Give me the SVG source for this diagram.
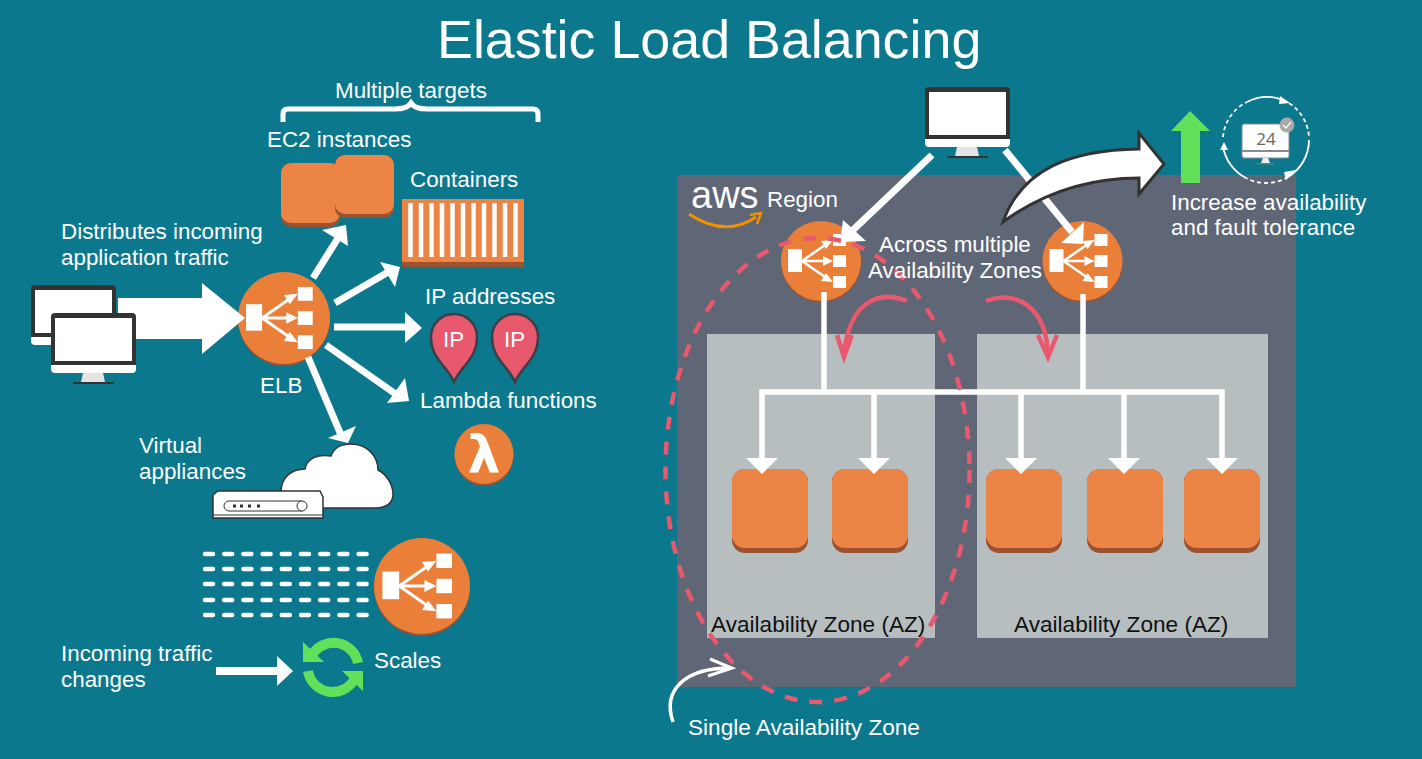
<svg xmlns="http://www.w3.org/2000/svg" width="1422" height="759" viewBox="0 0 1422 759">
<style>
text{font-family:"Liberation Sans",Arial,sans-serif;font-size:22.4px;fill:#fff}
.az{fill:#111}
.w{stroke:#fff;fill:none}
.wf{fill:#fff}
.box{fill:#ec8446}
.sh{fill:#9c5230}
.red{stroke:#e8596e;fill:none;stroke-width:4.5}
.grn{stroke:#62e05a;fill:none;stroke-width:10}
</style>
<defs>
<g id="elb">
<circle cx="0" cy="1.500" r="40" fill="#9c5230"/>
<circle cx="0" cy="0" r="40" fill="#e97f38"/>
<rect x="-33" y="-12" width="14" height="23" fill="#fff"/>
<rect x="12" y="-27" width="13" height="12" fill="#fff"/>
<rect x="12" y="-6" width="13" height="12" fill="#fff"/>
<rect x="12" y="15" width="13" height="12" fill="#fff"/>
<path d="M-19 0L4 -16M-19 0H4M-19 0L4 16" stroke="#fff" stroke-width="2.600" fill="none"/>
<path d="M12 -21L0 -20L5 -12ZM12 0L2 -5V5ZM12 21L0 20L5 12Z" fill="#fff"/>
</g>
<g id="monitor">
<rect x="0" y="0" width="85" height="54" rx="4" fill="#333"/>
<rect x="4" y="5" width="77" height="43" fill="#fff"/>
<path d="M0 52H85V56Q85 60 81 60H4Q0 60 0 56Z" fill="#fff"/>
<path d="M32 60H52L54 69H30Z" fill="#e4e4e4"/>
<rect x="22" y="69" width="41" height="2" rx="1" fill="#333"/>
</g>
<g id="ec2">
<rect x="0" y="0" width="76" height="84" rx="13" fill="#9c5230"/>
<rect x="0" y="0" width="76" height="79" rx="13" fill="#ec8446"/>
</g>
<g id="pin">
<path d="M0 45C-6 30 -23 22 -23 0A23 23 0 0 1 23 0C23 22 6 30 0 45Z" fill="#e8596e" stroke="#3a3f48" stroke-width="2.500"/>
</g>
</defs>
<rect width="1422" height="759" fill="#0b788e"/>
<text id="title" x="437" y="58" style="font-size:53.800px">Elastic Load Balancing</text>

<g id="region"><rect x="677" y="175" width="619" height="512" fill="#5f6676"/></g>
<g id="az1"><rect x="707" y="334" width="228" height="304" fill="#b6bec0"/><text class="az" x="711" y="632" style="font-size:22.600px">Availability Zone (AZ)</text></g>
<g id="az2"><rect x="977" y="334" width="291" height="304" fill="#b6bec0"/><text class="az" x="1014" y="632" style="font-size:22.600px">Availability Zone (AZ)</text></g>
<g id="aws-logo">
<text x="691" y="208" style="font-size:38px">aws</text>
<path d="M689 214Q725 238 756 217" fill="none" stroke="#f29100" stroke-width="3"/>
<path d="M750 215L761 213L757 224" fill="none" stroke="#f29100" stroke-width="2.500"/>
<text x="767" y="207">Region</text>
</g>

<g id="clients-left">
<use href="#monitor" x="31" y="285"/>
</g>
<g id="elb-left"><use href="#elb" transform="translate(284 318) scale(1.15)"/><text x="260" y="393">ELB</text></g>
<g id="ec2-instances">
<text x="267" y="147">EC2 instances</text>
<rect x="281" y="163" width="59" height="64" rx="10" fill="#9c5230"/><rect x="281" y="163" width="59" height="60" rx="10" class="box"/>
<rect x="335" y="155" width="59" height="63" rx="10" fill="#9c5230"/><rect x="335" y="155" width="59" height="59" rx="10" class="box"/>
</g>
<g id="containers">
<text x="410" y="186.500">Containers</text>
<rect x="402" y="199" width="122" height="68" fill="#ec8446"/>
<rect x="402" y="262" width="122" height="5" fill="#9c5230"/>
<path d="M410.500 203V257M421 203V257M431.500 203V257M442 203V257M452.500 203V257M463 203V257M473.500 203V257M484 203V257M494.500 203V257M505 203V257M515.500 203V257" stroke="#fff" stroke-width="4.500"/>
</g>
<g id="ip-addresses">
<text x="425" y="304">IP addresses</text>
<use href="#pin" x="454" y="337"/><use href="#pin" x="515" y="337"/>
<text x="443" y="347">IP</text><text x="504" y="347">IP</text>
</g>
<g id="lambda">
<text x="420" y="408">Lambda functions</text>
<ellipse cx="484" cy="456" rx="29.500" ry="30" fill="#9c5230"/><ellipse cx="484" cy="454" rx="29.500" ry="30" fill="#e97f38"/>
<text x="484" y="472" text-anchor="middle" style="font-size:52px;font-weight:bold;font-family:'DejaVu Sans',sans-serif">λ</text>
</g>
<g id="virtual-appliances">
<text x="139" y="453">Virtual</text><text x="139" y="479">appliances</text>
<path d="M281 492C281 478 291 469 305 469C307 458 318 454 331 456C334 447 343 444 351 444C366 444 378 455 378 470C386 474 393 484 393 494C393 503 386 508 376 508L300 508Z" fill="#fff" stroke="#333" stroke-width="1.500"/>
<path d="M213 495L218 491H320L323 497V518H213Z" fill="#fff" stroke="#333" stroke-width="1.500"/>
<path d="M213 515H323" stroke="#333" stroke-width="1"/>
<rect x="224" y="501" width="82" height="10" rx="5" fill="none" stroke="#333" stroke-width="1"/>
<path d="M233 506h3M240 506h3M248 506h3M257 506h3" stroke="#333" stroke-width="3"/>
<circle cx="302" cy="506" r="5" fill="#fff" stroke="#333" stroke-width="1"/>
</g>
<g id="traffic-lines">
<path d="M205 554H370M205 569H370M205 584H370M205 600H370M205 615H370" stroke="#fff" stroke-width="4.500" stroke-linecap="round" stroke-dasharray="8 11.200" fill="none"/>
</g>
<g id="elb-scale"><use href="#elb" transform="translate(422 586) scale(1.2)"/></g>
<g id="scales">
<path class="grn" d="M358 663A25 25 0 0 0 312 655"/>
<path d="M303 642V662H324Z" fill="#62e05a"/>
<path class="grn" d="M308 671A25 25 0 0 0 354 680"/>
<path d="M363 671V691L342 671Z" fill="#62e05a"/>
<text x="374" y="668">Scales</text>
</g>
<text x="61" y="239">Distributes incoming</text><text x="61" y="265">application traffic</text>
<text x="61" y="661">Incoming traffic</text><text x="61" y="687">changes</text>
<text x="335" y="98">Multiple targets</text>
<path d="M283 122V114Q283 109 288 109H395Q407 109 411 103Q415 109 427 109H533Q538 109 538 114V122" fill="none" stroke="#fff" stroke-width="5"/>

<g id="elb-a"><use href="#elb" x="821" y="261"/></g>
<g id="elb-b"><use href="#elb" x="1082.500" y="261"/></g>
<g id="ec2-1"><use href="#ec2" x="732" y="469"/></g>
<g id="ec2-2"><use href="#ec2" x="832" y="469"/></g>
<g id="ec2-3"><use href="#ec2" x="986" y="469"/></g>
<g id="ec2-4"><use href="#ec2" x="1087" y="469"/></g>
<g id="ec2-5"><use href="#ec2" x="1184" y="469"/></g>
<g id="client-top"><use href="#monitor" x="925" y="87"/></g>

<g id="connectors">
<path class="wf" d="M118 298H202V283L245 318L202 354V339H118Z"/>
<path class="w" stroke-width="7" d="M313 278L340 235M335 303L390 271M334 327H408M326 345L397 395M308 357L341 435"/>
<path class="wf" d="M322 230L346 225L348 246ZM380 262L400 267L395 287ZM405 312L422 328L405 343ZM405 378L409 401L387 403ZM356 426L348 443L328 438Z"/>
<path class="w" stroke-width="7" d="M932 155L853 230M1005 150L1072 232"/>
<path class="wf" d="M843 220L866 241L840 242ZM1084 222L1083 244L1061 243Z"/>
<path class="w" stroke-width="5.500" d="M824 292V392M1083 294V392M759.300 392H1224.700M762 392V460M874 392V460M1021 392V460M1124 392V460M1222 392V460"/>
<path class="wf" d="M746 458H778L762 474ZM858 458H890L874 474ZM1005 458H1037L1021 474ZM1108 458H1140L1124 474ZM1206 458H1238L1222 474Z"/>
<path class="wf" d="M216 667H277V656L293 671L277 686V675H216Z"/>
<path class="red" d="M907 301C880 290 848 300 844 357"/><path class="red" d="M837 335L844 357L852 335"/>
<path class="red" d="M986 301C1015 290 1047 305 1048 357"/><path class="red" d="M1038 335L1048 357L1057 335"/>
<path class="w" stroke-width="3.500" d="M673 722C662 690 685 668 730 668"/><path class="w" stroke-width="3" d="M710 659L732 668L708 676"/>
</g>
<ellipse id="single-az-ring" cx="817.500" cy="470" rx="152" ry="232" fill="none" stroke="#e8596e" stroke-width="4.500" stroke-dasharray="13 12"/>

<g id="big-arrow"><path d="M1003 222C1022 168 1072 150 1139 149V133L1164 164L1139 194V178C1085 178 1040 195 1003 222Z" fill="#fff" stroke="#333" stroke-width="3" stroke-linejoin="miter"/></g>
<path id="up-arrow" d="M1190 111L1210 131H1200V183H1181V131H1171Z" fill="#62e05a"/>
<g id="uptime">
<path class="w" stroke-width="1.800" d="M1247 102A43 43 0 0 1 1283 100M1309 140A43 43 0 0 1 1288 177M1246 178A43 43 0 0 1 1223 146"/>
<path class="w" stroke-width="1.800" stroke-dasharray="4 3" d="M1223 137A43 43 0 0 1 1247 102M1283 100A43 43 0 0 1 1309 137M1288 177A43 43 0 0 1 1246 178"/>
<path class="wf" d="M1280 96L1290 103L1279 104ZM1296 170L1286 180L1284 172ZM1220 150L1224 142L1228 150Z"/>
<rect x="1242" y="124" width="47" height="34" rx="2" fill="#fff" stroke="#8a8a8a" stroke-width="1"/>
<rect x="1242" y="150" width="47" height="2" fill="#8a8a8a"/>
<path d="M1263 158H1268L1270 163H1261Z" fill="#eee"/><rect x="1257" y="163" width="17" height="1.500" fill="#777"/>
<text x="1266" y="145" text-anchor="middle" style="font-size:17px;fill:#666;font-family:'Open Sans',sans-serif">24</text>
<circle cx="1287" cy="125" r="7.500" fill="#a9a9a9"/><path d="M1283 125L1286 128L1291 122" fill="none" stroke="#fff" stroke-width="1.200"/>
</g>
<text x="879" y="252">Across multiple</text><text x="868" y="278">Availability Zones</text>
<text x="1171" y="210">Increase availability</text><text x="1171" y="235">and fault tolerance</text>
<text x="688" y="735" style="font-size:22.600px">Single Availability Zone</text>
<use href="#monitor" x="51" y="313" id="client-front"/>
</svg>
